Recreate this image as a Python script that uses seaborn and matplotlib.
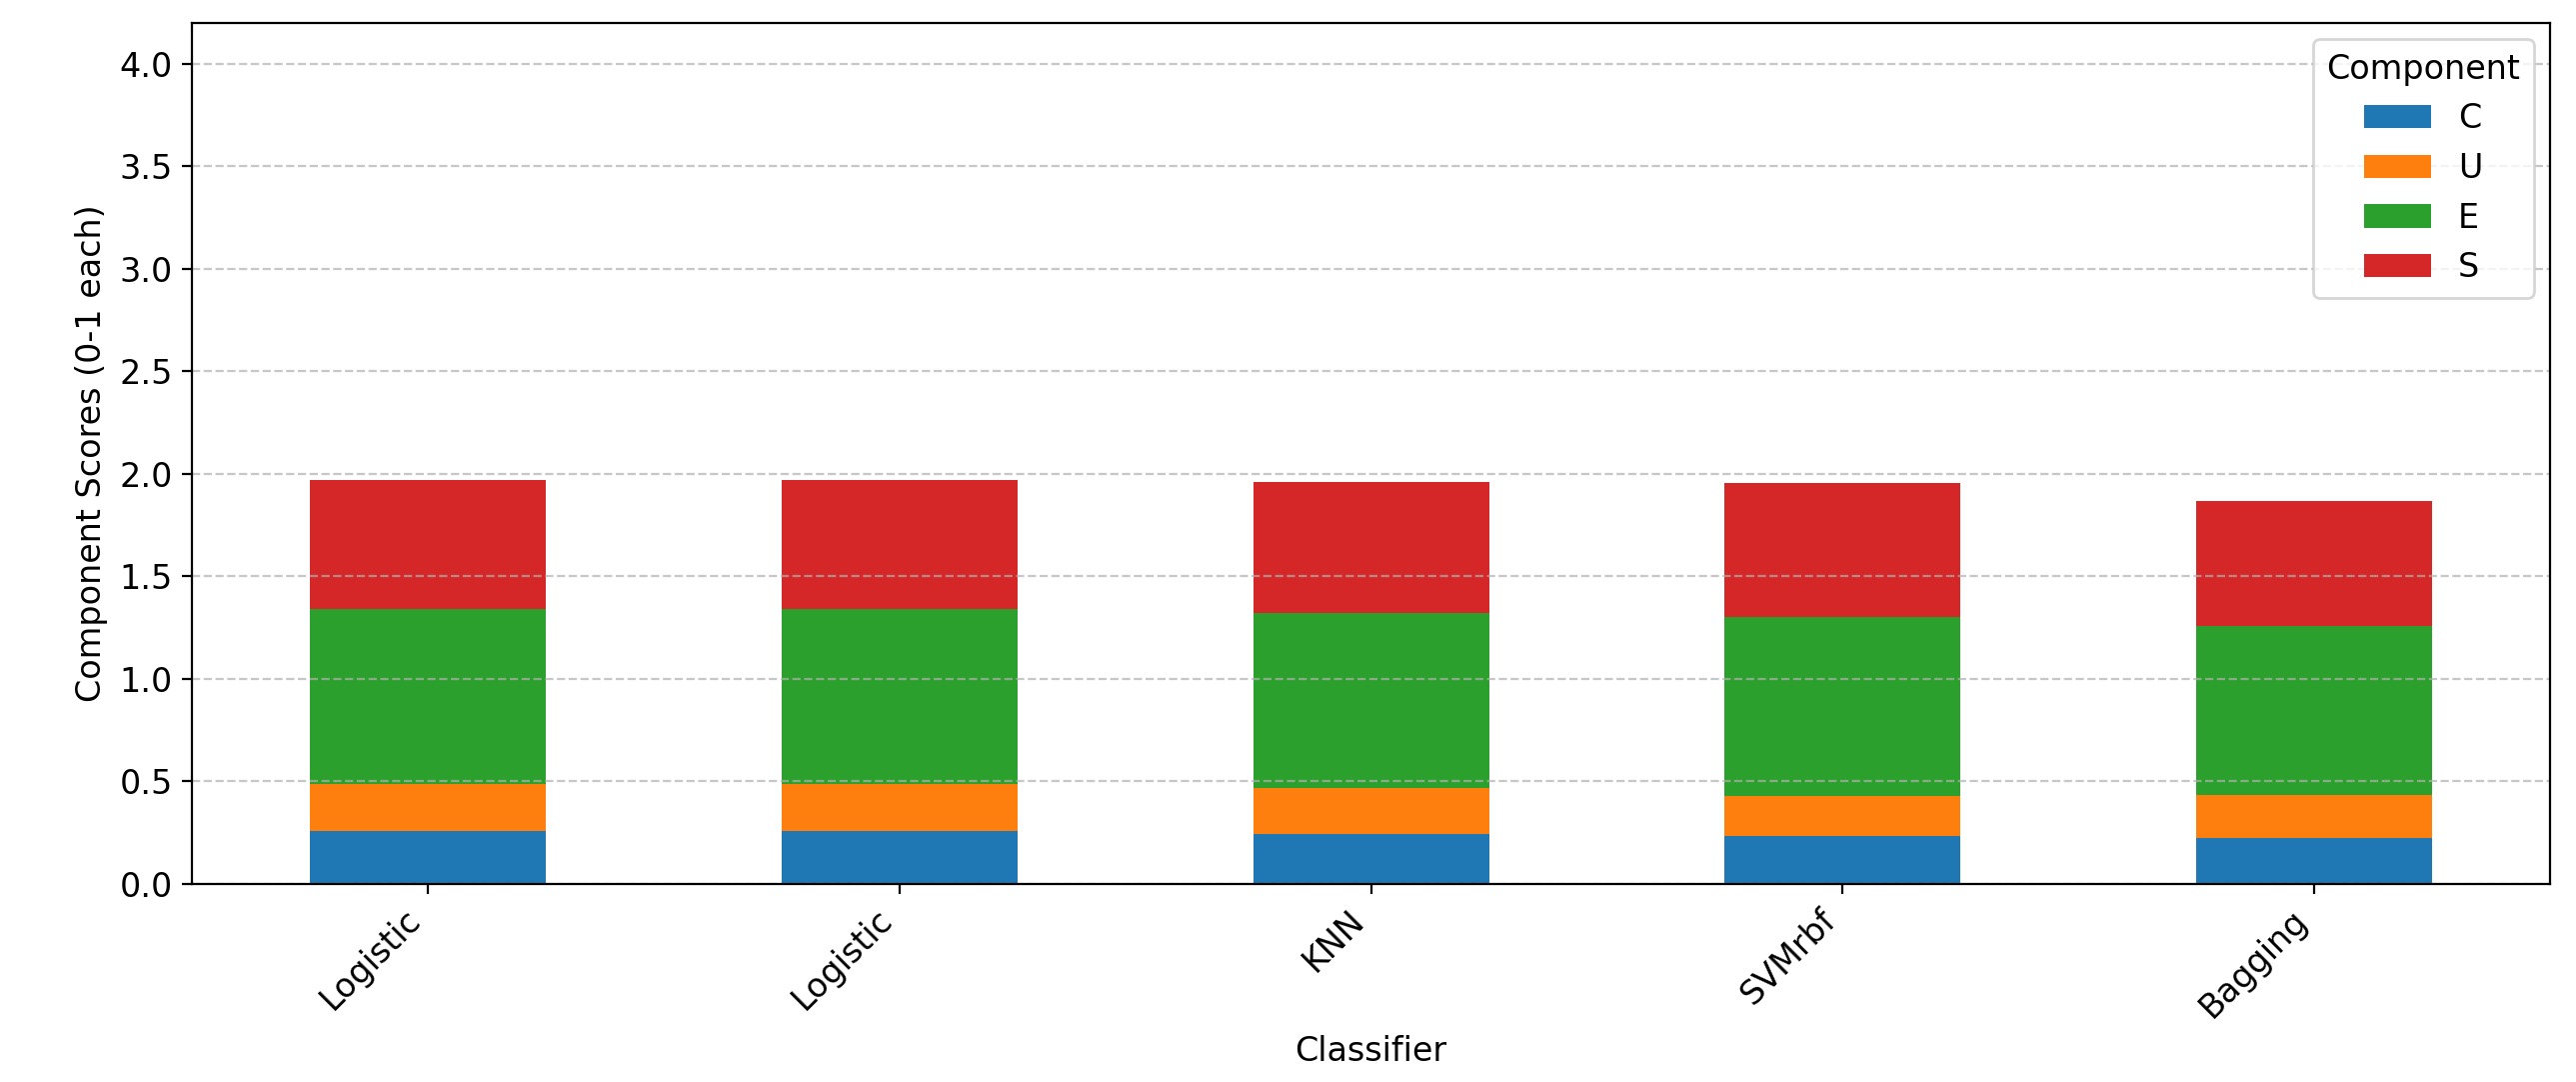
import numpy as np
import pandas as pd
import seaborn as sns
from matplotlib import pyplot as plt

# classifiers in plot order (Logistic appears twice in the source figure)
classifiers = ['Logistic', 'Logistic', 'KNN', 'SVMrbf', 'Bagging']
components = ['C', 'U', 'E', 'S']

# component scores
C = [0.260, 0.260, 0.243, 0.233, 0.226]
U = [0.230, 0.230, 0.227, 0.194, 0.210]
E = [0.850, 0.850, 0.852, 0.874, 0.824]
S = [0.630, 0.630, 0.637, 0.655, 0.608]

colors = ['#1f77b4', '#ff7f0e', '#2ca02c', '#d62728']

scores = pd.DataFrame({'C': C, 'U': U, 'E': E, 'S': S})
scores['pos'] = np.arange(len(classifiers))

plt.rcParams['font.family'] = ['DejaVu Sans']
plt.rcParams['font.size'] = 12

fig, ax = plt.subplots(figsize=(12.885, 5.41), dpi=200)

# stack the four components, one seaborn barplot per layer
bottom = np.zeros(len(classifiers))
for comp, col in zip(components, colors):
    sns.barplot(data=scores, x='pos', y=comp, color=col, width=0.5,
                bottom=bottom, label=comp, errorbar=None, saturation=1,
                ax=ax)
    bottom = bottom + scores[comp].values

ax.set_xlim(-0.5, len(classifiers) - 0.5)
ax.set_ylim(0, 4.2)
ax.set_yticks(np.arange(0, 4.01, 0.5))
ax.set_xticks(scores['pos'])
ax.set_xticklabels(classifiers, rotation=45, ha='right', fontsize=12)
ax.tick_params(axis='y', labelsize=12)
ax.set_xlabel('Classifier', fontsize=12)
ax.set_ylabel('Component Scores (0-1 each)', fontsize=12)
ax.yaxis.grid(True, linestyle='--', alpha=0.7)
ax.xaxis.grid(False)

ax.legend(title='Component', loc='upper right', fontsize=12, title_fontsize=12)

plt.subplots_adjust(left=0.0745, right=0.990, bottom=0.183, top=0.979)
plt.savefig('out.png', dpi=200)
